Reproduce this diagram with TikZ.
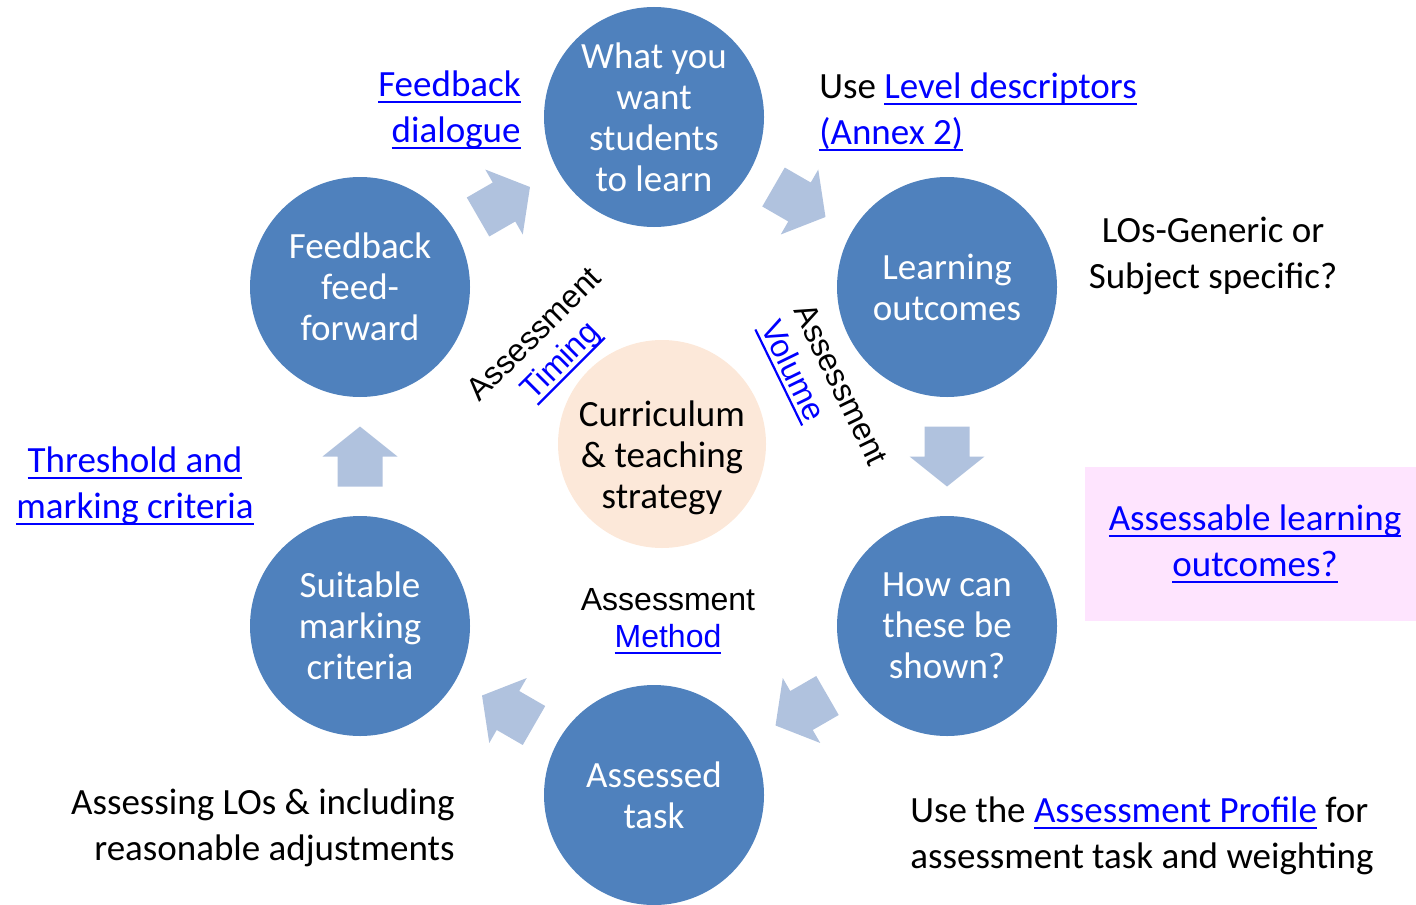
\documentclass[tikz,border=0pt]{standalone}
\usepackage{fontspec}
\usetikzlibrary{calc}
\setmainfont{Carlito}
\newfontfamily\arialfont{Liberation Sans}
\definecolor{cyclebg}{RGB}{79,129,189}
\definecolor{arrowbg}{RGB}{176,194,222}
\definecolor{corebg}{RGB}{252,232,217}
\definecolor{notebg}{RGB}{254,228,254}
\definecolor{linkblue}{RGB}{0,0,255}
\newcommand{\lnk}[1]{\textcolor{linkblue}{\setbox0\hbox{#1}\rlap{\rule[-3.2pt]{\wd0}{1.1pt}}\box0}}

\begin{document}
\begin{tikzpicture}[x=0.5pt, y=-0.5pt,
  stage/.style={circle, fill=cyclebg, minimum size=110pt, inner sep=0pt,
    text=white, align=center, font=\fontsize{18.5}{20.5}\selectfont},
  note/.style={font=\fontsize{18.5}{22.8}\selectfont, inner sep=0pt},
  rotnote/.style={font=\arialfont\fontsize{16}{18.5}\selectfont, inner sep=0pt}]
  \useasboundingbox (0,0) rectangle (1416,904);
  \node[stage] (goal) at (654,117) {What you\\want\\students\\to learn};
  \node[stage] (lo) at (947,287) {Learning\\outcomes};
  \node[stage] (shown) at (947,626) {How can\\these be\\shown?};
  \node[stage] (task) at (654,795) {Assessed\\task};
  \node[stage] (marking) at (360,626) {Suitable\\marking\\criteria};
  \node[stage] (fback) at (360,287) {Feedback\\feed-\\forward};
  \node[circle, fill=corebg, minimum size=104pt, inner sep=0pt] (core) at (662,444) {};
  \node[stage, fill=none, text=black] (corelbl) at ($(core)+(0,14)$) {Curriculum\\\& teaching\\strategy};
  % arrows between the stages
  \foreach \a/\b/\ang/\dx in {goal/lo/-30/-1, lo/shown/-90/0, shown/task/-150/1,
      task/marking/150/1, marking/fback/90/0, fback/goal/30/-3}
    \fill[arrowbg, shift={($(\a)!0.5!(\b)$)}, xshift=\dx*0.5pt, rotate=\ang]
      (-30,-22.5) -- (0,-22.5) -- (0,-37.5) -- (30,0) -- (0,37.5) -- (0,22.5) -- (-30,22.5) -- cycle;
  \node[rotnote, rotate=45, align=center] (timing) at (549,349) {Assessment\\\lnk{Timing}};
  \node[rotnote, rotate=-64, align=left] (volume) at (822,394) {Assessment\\\lnk{Volume}};
  \node[rotnote, align=center] (method) at (668,621) {Assessment\\\lnk{Method}};
  \node[note, align=right, anchor=east] (fbdlg) at (521,110) {\lnk{Feedback}\\\lnk{dialogue}};
  \node[note, align=left, anchor=west] (lvl) at (819,112) {Use \lnk{Level descriptors}\\\lnk{(Annex 2)}};
  \node[note, align=center] (losq) at (1213,256) {LOs-Generic or\\Subject specific?};
  \node[note, align=center] (thresh) at (135,486) {\lnk{Threshold and}\\\lnk{marking criteria}};
  \node[note, fill=notebg, minimum width=170pt, minimum height=77pt, align=center] (assessable)
    at (1255,544) {\lnk{Assessable learning}\\\lnk{outcomes?}};
  \node[note, align=left, anchor=west] (profile) at (910,836) {Use the \lnk{Assessment Profile} for\\assessment task and weighting};
  \node[note, align=right, anchor=east] (adjust) at (455,828) {Assessing LOs \& including\\reasonable adjustments};
\end{tikzpicture}
\end{document}
